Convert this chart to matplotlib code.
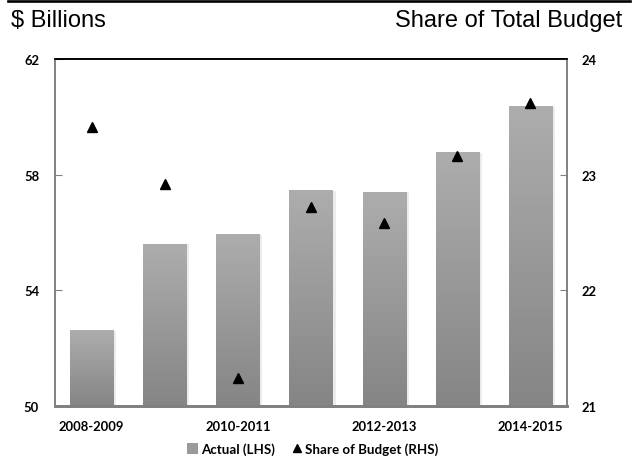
import matplotlib
matplotlib.use("Agg")
import matplotlib.pyplot as plt
import numpy as np
from matplotlib.colors import LinearSegmentedColormap
from matplotlib.lines import Line2D
from matplotlib.patches import Patch

categories = ["2008-2009", "2009-2010", "2010-2011", "2011-2012",
              "2012-2013", "2013-2014", "2014-2015"]
actual = [52.6, 55.6, 55.92, 57.45, 57.4, 58.75, 60.35]
share = [23.41, 22.92, 21.24, 22.72, 22.58, 23.16, 23.62]
left_ticks = [50, 54, 58, 62]
right_ticks = [21, 22, 23, 24]
xlabels_shown = ["2008-2009", "", "2010-2011", "", "2012-2013", "", "2014-2015"]

tick_font = dict(family="Lato", weight="bold", size=9.4)

fig = plt.figure(figsize=(6.36, 4.6), dpi=100)
ax = fig.add_axes([0.0865, 0.1152, 0.805, 0.7544])
ax2 = ax.twinx()

x = np.arange(len(categories))
bw = 0.59
bars = ax.bar(x, actual, width=bw, color="none", edgecolor="none", zorder=2)
cmap = LinearSegmentedColormap.from_list("g", ["#858585", "#adadad"])
grad = np.linspace(0, 1, 256).reshape(-1, 1)
for b in bars:
    x0 = b.get_x()
    w = b.get_width()
    # soft shadow
    ax.bar(x0 + w / 2 + 0.04, b.get_height(), width=w, color="#ececec",
           edgecolor="none", zorder=1)
    ax.imshow(grad, cmap=cmap, aspect="auto", origin="lower",
              extent=[x0, x0 + w, 50, b.get_height()], zorder=3)

ax.set_xlim(-0.5, len(categories) - 0.5)
ax.set_ylim(50, 62)
ax.set_yticks(left_ticks)
ax.set_yticklabels([str(t) for t in left_ticks], fontdict=tick_font)
ax.set_xticks(x)
ax.set_xticklabels(xlabels_shown, fontdict=tick_font)
ax.tick_params(axis="x", length=0, pad=10)
ax.tick_params(axis="y", direction="in", length=5, color="#808080", pad=11.5)

ax2.plot(x, share, linestyle="none", marker="^", color="black", markersize=6.8,
         zorder=5)
ax2.set_ylim(21, 24)
ax2.set_yticks(right_ticks)
ax2.set_yticklabels([str(t) for t in right_ticks], fontdict=tick_font)
ax2.tick_params(axis="y", direction="in", length=5, color="#808080", pad=10.8)

for a in (ax, ax2):
    for s in ("left", "right", "bottom"):
        a.spines[s].set_color("#808080")
        a.spines[s].set_linewidth(1.2)
    a.spines["top"].set_color("black")
    a.spines["top"].set_linewidth(1.2)
ax.spines["bottom"].set_linewidth(2.0)
ax2.spines["bottom"].set_linewidth(2.0)

fig.add_artist(Line2D([8 / 636, 630 / 636], [0.995, 0.995], color="black",
                      linewidth=1.9, transform=fig.transFigure))
fig.text(0.018, 0.942, "$ Billions", family="Liberation Sans", fontsize=17,
         ha="left", va="baseline")
fig.text(0.978, 0.942, "Share of Total Budget", family="Liberation Sans",
         fontsize=17, ha="right", va="baseline")

handles = [Patch(facecolor="#9a9a9a", edgecolor="none"),
           Line2D([], [], linestyle="none", marker="^", color="black", markersize=6)]
leg = fig.legend(handles, ["Actual (LHS)", "Share of Budget (RHS)"],
                 loc="center", bbox_to_anchor=(0.492, 0.022), ncol=2,
                 frameon=False, prop=dict(family="Lato", weight="bold", size=9.6),
                 handlelength=0.8, handleheight=0.8, handletextpad=0.2,
                 columnspacing=1.3, borderpad=0)

fig.savefig("out.png", dpi=100)
